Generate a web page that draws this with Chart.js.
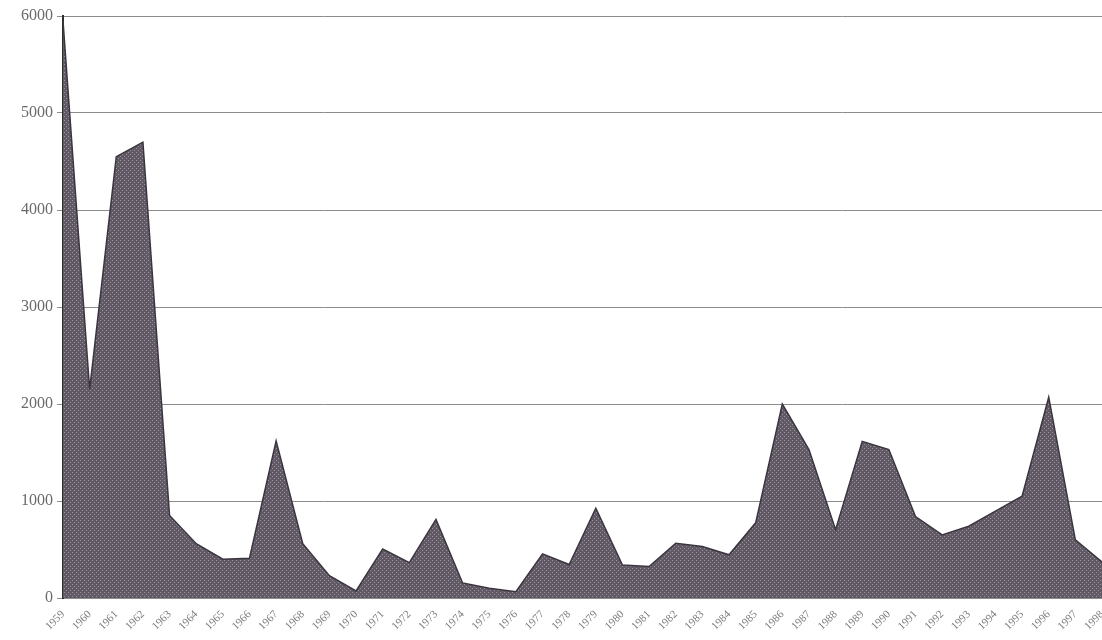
<!DOCTYPE html>
<html>
<head>
<meta charset="utf-8">
<script src="https://cdn.jsdelivr.net/npm/chart.js@4/dist/chart.umd.min.js"></script>
<style>
  body { margin: 0; background: #fff; }
  #wrap { width: 1102px; height: 640px; }
</style>
</head>
<body>
<div id="wrap"><canvas id="areaChart" width="1102" height="640"></canvas></div>
<script>
// years on the x axis
var years = ['1959','1960','1961','1962','1963','1964','1965','1966','1967','1968',
             '1969','1970','1971','1972','1973','1974','1975','1976','1977','1978',
             '1979','1980','1981','1982','1983','1984','1985','1986','1987','1988',
             '1989','1990','1991','1992','1993','1994','1995','1996','1997','1998'];
// values
var counts = [5950, 2150, 4550, 4700, 850, 560, 400, 410, 1620, 560,
              230, 72, 505, 365, 810, 155, 100, 65, 455, 345,
              925, 340, 325, 565, 530, 445, 775, 2000, 1530, 705,
              1615, 1530, 840, 650, 740, 895, 1050, 2070, 600, 372];
// y ticks
var yTicks = [0, 1000, 2000, 3000, 4000, 5000, 6000];

//dotted halftone fill like the scan
var makePattern = function(){
  var c = document.createElement('canvas');
  c.width = 4; c.height = 4;
  var g = c.getContext('2d');
  g.fillStyle = '#615a65';
  g.fillRect(0, 0, 4, 4);
  g.fillStyle = '#9a94a0';
  g.fillRect(0, 0, 1, 1);
  g.fillRect(2, 2, 1, 1);
  return g.createPattern(c, 'repeat');
};

var ctx = document.getElementById('areaChart').getContext('2d');
var chart = new Chart(ctx, {
  type: 'line',
  data: {
    labels: years,
    datasets: [{
      data: counts,
      fill: 'origin',
      backgroundColor: makePattern(),
      borderColor: '#3b3540',
      borderWidth: 1.5,
      tension: 0,
      pointRadius: 0
    }]
  },
  options: {
    responsive: false,
    animation: false,
    layout: { padding: { top: 16, right: 0, left: 0, bottom: 0 } },
    plugins: { legend: { display: false }, tooltip: { enabled: false } },
    scales: {
      x: {
        offset: false,
        grid: { display: false },
        border: { display: false },
        ticks: {
          autoSkip: false,
          minRotation: 45,
          maxRotation: 45,
          padding: 2,
          color: '#7a7a7a',
          font: { family: 'Liberation Serif', size: 11 }
        },
        afterFit: function(scale){
          scale.height = 42;
          scale.paddingLeft = 0;
          scale.paddingRight = 0;
        }
      },
      y: {
        min: 0,
        max: 6000,
        afterBuildTicks: function(scale){
          scale.ticks = yTicks.map(function(v){ return { value: v }; });
        },
        grid: { color: '#8c8c8c', lineWidth: 1, tickLength: 6, tickColor: '#8c8c8c' },
        border: { display: true, color: '#2e2e2e', width: 2 },
        ticks: {
          padding: 4,
          color: '#6a6a6a',
          font: { family: 'Liberation Serif', size: 16 },
          //no thousands separator
          callback: function(v){ return String(v); }
        },
        afterFit: function(scale){
          scale.width = 63;
        }
      }
    }
  }
});
</script>
</body>
</html>
